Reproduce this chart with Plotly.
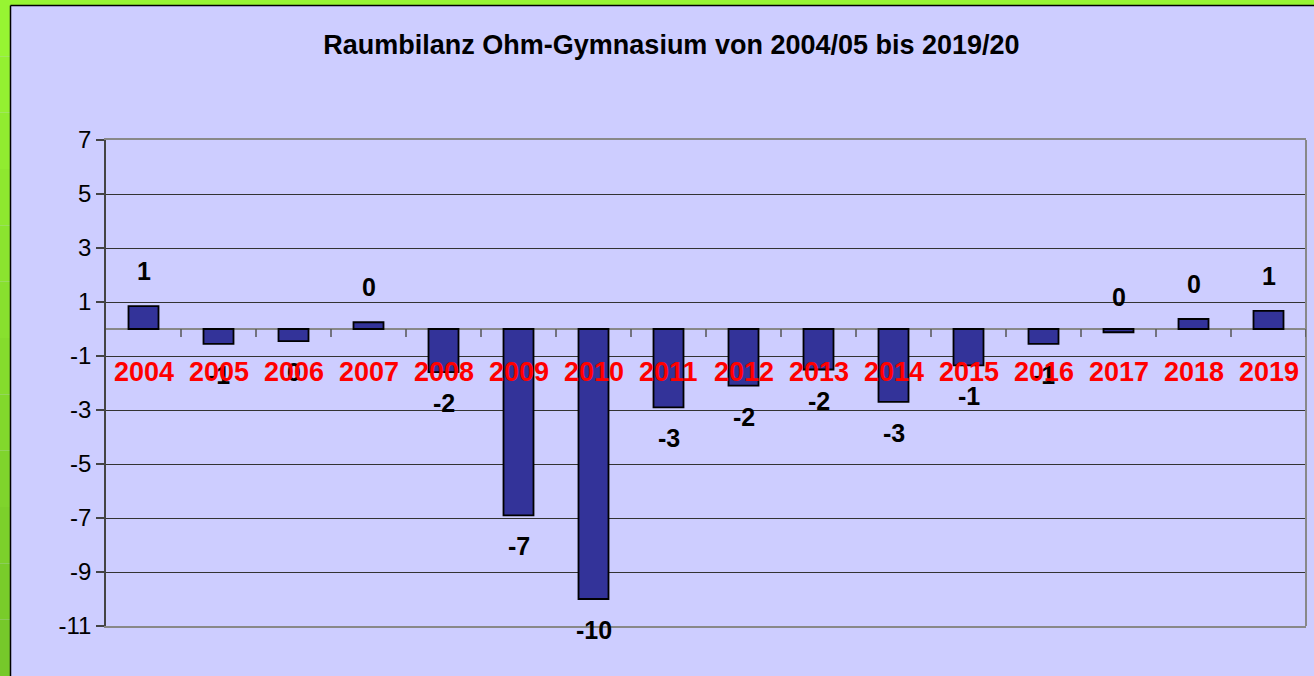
import plotly.graph_objects as go

# ---- data ----
years = ["2004", "2005", "2006", "2007", "2008", "2009", "2010", "2011",
         "2012", "2013", "2014", "2015", "2016", "2017", "2018", "2019"]
bilanz = [0.85, -0.55, -0.45, 0.25, -1.6, -6.9, -10.0, -2.9,
          -2.1, -1.5, -2.7, -1.35, -0.55, -0.12, 0.37, 0.67]
y_ticks = [7, 5, 3, 1, -1, -3, -5, -7, -9, -11]
title_text = "Raumbilanz Ohm-Gymnasium von 2004/05 bis 2019/20"

W, H = 1314, 676
L, R, T, B = 106, 8, 140, 50
PW, PH = W - L - R, H - T - B


def px_x(px):
    return (px - L) / PW


def px_y(py):
    return (H - B - py) / PH


FONT = "Liberation Sans, Arial, sans-serif"
BG = "#CDCDFF"

fig = go.Figure()
fig.add_trace(go.Bar(
    x=list(range(len(years))), y=bilanz,
    marker=dict(color="#333399", line=dict(color="black", width=1.8)),
    width=0.4, hovertext=years, hoverinfo="text+y",
))

annotations = []
# data labels (rounded values)
for i, v in enumerate(bilanz):
    above = v > -0.2
    r = int(round(v))
    annotations.append(dict(
        x=i, y=v, xref="x", yref="y", text="<b>%d</b>" % (0 if r == 0 else r),
        showarrow=False, yshift=35 if above else -31,
        font=dict(family=FONT, size=25, color="black"),
    ))
# red category labels near zero line
for i, yr in enumerate(years):
    annotations.append(dict(
        x=i, y=0, xref="x", yref="y", text="<b>%s</b>" % yr, showarrow=False, yshift=-43,
        font=dict(family=FONT, size=27, color="#FF0000"),
    ))

shapes = []
# green frame (top + left, gradient on left)
shapes.append(dict(type="rect", xref="paper", yref="paper", layer="below",
                   x0=px_x(0), x1=px_x(W), y0=px_y(5.5), y1=px_y(0),
                   fillcolor="#97F532", line=dict(width=0)))
n = 12
c0, c1 = (0x97, 0xF5, 0x32), (0x76, 0xC8, 0x2A)
for i in range(n):
    t = i / (n - 1)
    col = "rgb(%d,%d,%d)" % tuple(int(a + (b - a) * t) for a, b in zip(c0, c1))
    shapes.append(dict(type="rect", xref="paper", yref="paper", layer="below",
                       x0=px_x(0), x1=px_x(10), y0=px_y(H * (i + 1) / n), y1=px_y(H * i / n),
                       fillcolor=col, line=dict(width=0)))
shapes.append(dict(type="line", xref="paper", yref="paper",
                   x0=px_x(10.5), x1=px_x(W), y0=px_y(5.5), y1=px_y(5.5),
                   line=dict(color="black", width=1.5)))
shapes.append(dict(type="line", xref="paper", yref="paper",
                   x0=px_x(10.5), x1=px_x(10.5), y0=px_y(5.5), y1=px_y(H),
                   line=dict(color="black", width=1.5)))
# right border of plot area
shapes.append(dict(type="line", xref="paper", yref="paper",
                   x0=1, x1=1, y0=0, y1=1, line=dict(color="#888888", width=2)))
# tick marks on the zero line between categories
for k in range(1, len(years) + 1):
    shapes.append(dict(type="line", xref="x", yref="y", ysizemode="pixel", yanchor=0,
                       x0=k - 0.5, x1=k - 0.5, y0=0, y1=-8,
                       line=dict(color="#555555", width=1.5)))

fig.update_layout(
    width=W, height=H,
    margin=dict(l=L, r=R, t=T, b=B),
    paper_bgcolor=BG, plot_bgcolor=BG,
    showlegend=False,
    title=dict(text="<b>" + title_text + "</b>", xref="container", x=0.511,
               xanchor="center", y=1 - 45 / H, yanchor="middle",
               font=dict(family=FONT, size=27, color="black")),
    xaxis=dict(showticklabels=False, ticks="", showgrid=False,
               showline=True, mirror=True, linecolor="#888888", linewidth=2,
               range=[-0.5, len(years) - 0.5], zeroline=False),
    yaxis=dict(range=[-11, 7], tickvals=y_ticks, ticktext=[str(v) for v in y_ticks],
               showgrid=True, gridcolor="#333333", gridwidth=1,
               zeroline=True, zerolinecolor="#888888", zerolinewidth=2,
               showline=True, linecolor="#444444", linewidth=1.5,
               ticks="outside", ticklen=8, tickcolor="#444444", tickwidth=1.5,
               tickfont=dict(family=FONT, size=24, color="black")),
    annotations=annotations,
    shapes=shapes,
    bargap=0.6,
)

fig.write_html("out.html", config={"displayModeBar": False},
               post_script="document.body.style.margin='0';document.body.style.overflow='hidden';")
